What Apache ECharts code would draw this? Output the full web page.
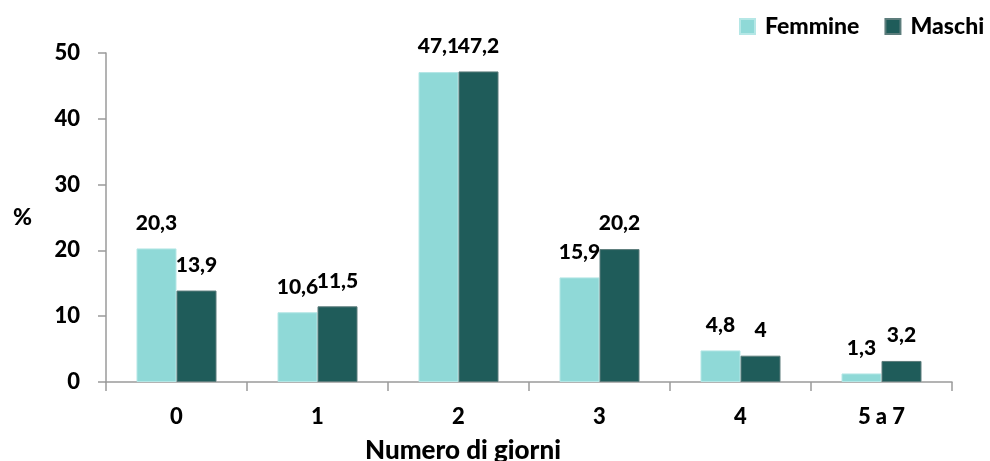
<!DOCTYPE html>
<html>
<head>
<meta charset="utf-8">
<script src="https://cdn.jsdelivr.net/npm/echarts@6/dist/echarts.min.js"></script>
<style>
  html, body { margin: 0; padding: 0; background: #ffffff; }
  #chart { width: 990px; height: 461px; }
</style>
</head>
<body>
<div id="chart"></div>
<script>
// Giorni della settimana: distribuzione percentuale per sesso
const categories = ['0', '1', '2', '3', '4', '5 a 7'];
const femmine = [20.3, 10.6, 47.1, 15.9, 4.8, 1.3];
const maschi = [13.9, 11.5, 47.2, 20.2, 4.0, 3.2];
const yTicks = [0, 10, 20, 30, 40, 50];

const FONT = 'Lato, "Open Sans", sans-serif';
const WEIGHT = 900;
const fmt = v => String(v).replace('.', ',');

const chart = echarts.init(document.getElementById('chart'));

const labelStyle = {
  show: true,
  position: 'top',
  distance: 15,
  fontFamily: FONT,
  fontWeight: WEIGHT,
  fontSize: 21,
  color: '#000000',
  formatter: p => fmt(p.value)
};

chart.setOption({
  animation: false,
  textStyle: { fontFamily: FONT },
  grid: { left: 106, right: 38, top: 53, bottom: 79 },
  legend: {
    orient: 'horizontal',
    left: 739,
    top: 15,
    width: 260,
    padding: 0,
    itemWidth: 15,
    itemHeight: 15,
    itemGap: 25,
    icon: 'rect',
    textStyle: {
      fontFamily: FONT,
      fontWeight: WEIGHT,
      fontSize: 23,
      color: '#000000',
      padding: [0, 0, 0, 5]
    },
    data: ['Femmine', 'Maschi']
  },
  xAxis: {
    type: 'category',
    data: categories,
    axisLine: { show: true, lineStyle: { color: '#9a9a9a', width: 1.5 } },
    axisTick: { show: true, length: 9, lineStyle: { color: '#9a9a9a', width: 1.5 } },
    axisLabel: {
      margin: 24,
      fontFamily: FONT,
      fontWeight: WEIGHT,
      fontSize: 22,
      color: '#000000'
    },
    splitLine: { show: false }
  },
  yAxis: {
    type: 'value',
    min: yTicks[0],
    max: yTicks[yTicks.length - 1],
    interval: yTicks[1] - yTicks[0],
    name: '%',
    nameLocation: 'middle',
    nameRotate: 0,
    nameGap: 74,
    nameTextStyle: {
      fontFamily: FONT,
      fontWeight: WEIGHT,
      fontSize: 23,
      color: '#000000'
    },
    axisLine: { show: true, lineStyle: { color: '#9a9a9a', width: 1.5 } },
    axisTick: { show: true, length: 8, lineStyle: { color: '#9a9a9a', width: 1.5 } },
    axisLabel: {
      margin: 26,
      fontFamily: FONT,
      fontWeight: WEIGHT,
      fontSize: 22,
      color: '#000000'
    },
    splitLine: { show: false }
  },
  graphic: [{
    type: 'text',
    x: 463,
    y: 451,
    style: {
      text: 'Numero di giorni',
      fontFamily: FONT,
      fontWeight: WEIGHT,
      fontSize: 26,
      fill: '#000000',
      align: 'center',
      verticalAlign: 'middle'
    }
  }],
  series: [
    {
      name: 'Femmine',
      type: 'bar',
      data: femmine,
      barWidth: 40,
      barGap: '0%',
      itemStyle: { color: '#8fd9d7', borderColor: '#b5e7e6', borderWidth: 1 },
      label: labelStyle
    },
    {
      name: 'Maschi',
      type: 'bar',
      data: maschi,
      barWidth: 40,
      barGap: '0%',
      itemStyle: { color: '#1f5c5a', borderColor: '#5d7d7c', borderWidth: 1 },
      label: labelStyle
    }
  ]
});
</script>
</body>
</html>
